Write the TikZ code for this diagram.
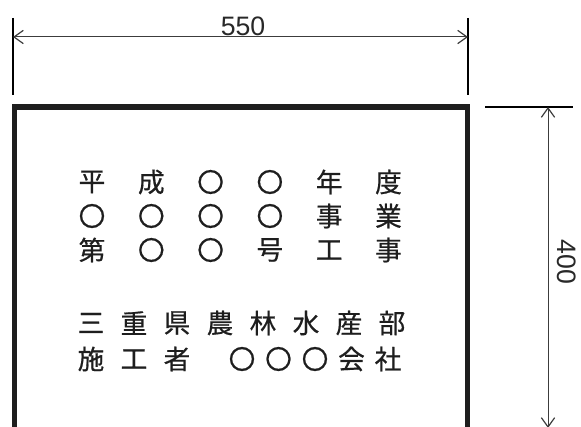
\documentclass[tikz,border=0pt]{standalone}
\usepackage{fontspec}
\setmainfont{Liberation Sans}
\newfontfamily\jpfont[FakeBold=0.6]{Noto Sans CJK JP}
\usepackage{tikz}
\usetikzlibrary{arrows.meta}

\tikzset{
  dimline/.style={line width=0.75, color={rgb,255:red,60;green,60;blue,60},
    {Straight Barb[length=7pt,width=10pt,line width=0.9pt]}-{Straight Barb[length=7pt,width=10pt,line width=0.9pt]}},
  extline/.style={line width=1.4},
  dimtext/.style={inner sep=0.75pt, font=\fontsize{20}{20}\selectfont, color={rgb,255:red,40;green,40;blue,40}},
  boardtext/.style={inner sep=0pt, font=\jpfont\fontsize{20}{20}\selectfont, color={rgb,255:red,30;green,30;blue,30}},
}

\begin{document}
\begin{tikzpicture}[x=0.75pt,y=0.75pt,yscale=-1,xscale=1]
\useasboundingbox (0,0) rectangle (581,427);

%Board corners
\coordinate (tl) at (14.5,107);
\coordinate (tr) at (467.5,107);
\coordinate (br) at (467.5,430);
%Board frame
\draw [line width=4, color={rgb,255:red,30;green,30;blue,30}] (tl) rectangle (br);

%Width dimension
\coordinate (wl) at (13,18);
\coordinate (wlb) at (13,95);
\coordinate (wr) at (468,18);
\coordinate (wrb) at (468,95);
\draw [extline] (wl) -- (wlb);
\draw [extline] (wr) -- (wrb);
\coordinate (wa) at (13,37);
\coordinate (wb) at (468,37);
\draw [dimline] (wa) -- (wb);
% Text Node
\node (width) [dimtext] at (243,26) {550};

%Height dimension
\coordinate (hs) at (485,107);
\coordinate (he) at (573,107);
\draw [extline] (hs) -- (he);
\coordinate (ha) at (548,107);
\coordinate (hb) at (548,428);
\draw [dimline] (ha) -- (hb);
% Text Node
\node (height) [dimtext, rotate=-90] at (567,262) {400};

%Board text, rows 1 to 3
\foreach \ch [count=\i from 0] in {平,成,〇,〇,年,度}
  \node (ra\i) [boardtext] at (92+59.3*\i,182) {\ch};
\foreach \ch [count=\i from 0] in {〇,〇,〇,〇,事,業}
  \node (rb\i) [boardtext] at (92+59.3*\i,216) {\ch};
\foreach \ch [count=\i from 0] in {第,〇,〇,号,工,事}
  \node (rc\i) [boardtext] at (92+59.3*\i,250) {\ch};

%Board text, rows 4 and 5
\foreach \ch [count=\i from 0] in {三,重,県,農,林,水,産,部}
  \node (rd\i) [boardtext] at (91+43*\i,323) {\ch};
\foreach \ch [count=\i from 0] in {施,工,者}
  \node (re\i) [boardtext] at (91+43*\i,359) {\ch};
\foreach \ch [count=\i from 0] in {〇,〇,〇,会,社}
  \node (rf\i) [boardtext] at (242+36.5*\i,359) {\ch};

\end{tikzpicture}
\end{document}
